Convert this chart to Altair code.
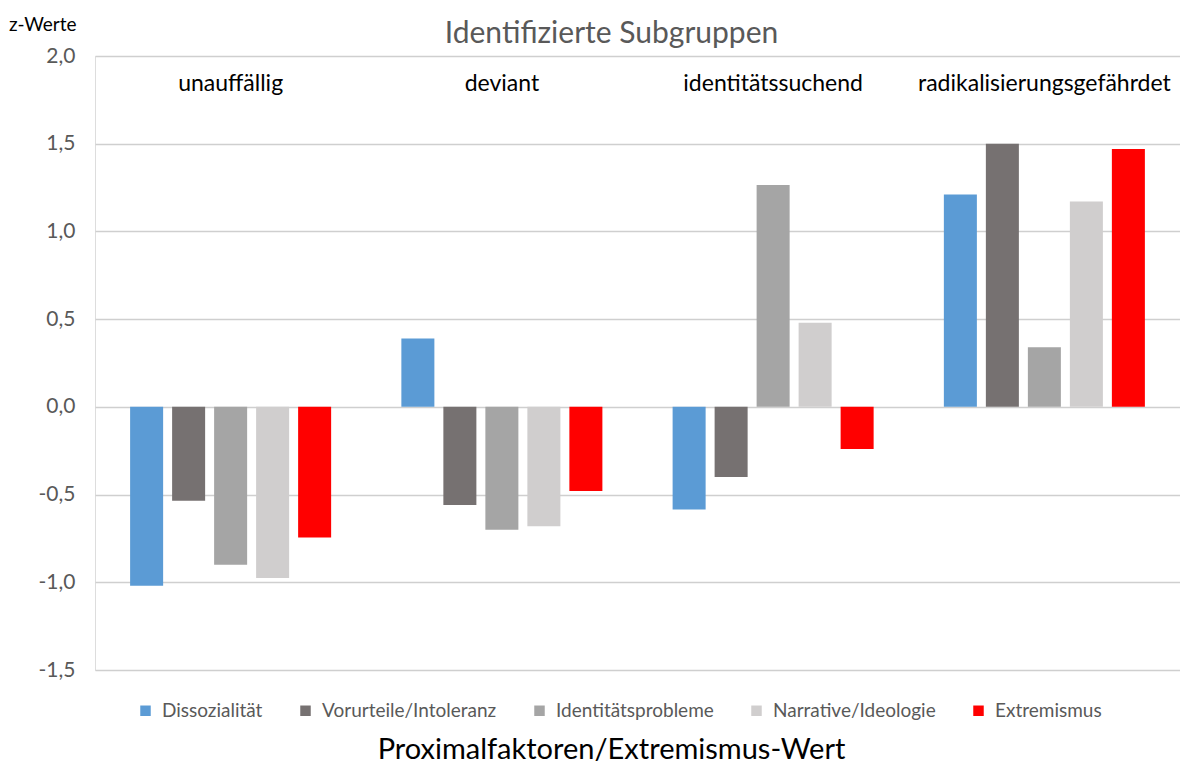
import altair as alt
import pandas as pd

FONT = "Lato"

groups = ["unauffällig", "deviant", "identitätssuchend", "radikalisierungsgefährdet"]
factors = ["Dissozialität", "Vorurteile/Intoleranz", "Identitätsprobleme",
           "Narrative/Ideologie", "Extremismus"]
colors = ["#5B9BD5", "#767171", "#A5A5A5", "#D0CECE", "#FF0000"]

dissozialitaet = [-1.02, 0.39, -0.585, 1.21]
vorurteile = [-0.535, -0.56, -0.40, 1.50]
identitaet = [-0.90, -0.70, 1.265, 0.34]
narrative = [-0.975, -0.68, 0.48, 1.17]
extremismus = [-0.745, -0.48, -0.24, 1.47]

y_ticks = [-1.5, -1.0, -0.5, 0.0, 0.5, 1.0, 1.5, 2.0]

series = [dissozialitaet, vorurteile, identitaet, narrative, extremismus]
rows = []
for f, vals in zip(factors, series):
    for g, v in zip(groups, vals):
        rows.append({"Gruppe": g, "Faktor": f, "Wert": v})
df = pd.DataFrame(rows)
labels_df = pd.DataFrame({"Gruppe": groups})
ylab_df = pd.DataFrame({"t": ["z-Werte"]})

W, H = 1085, 614

x_enc = alt.X(
    "Gruppe:N", sort=groups,
    scale=alt.Scale(paddingInner=0, paddingOuter=0),
    axis=alt.Axis(labels=False, ticks=False, domain=False, grid=False,
                  title="Proximalfaktoren/Extremismus-Wert",
                  titleFont=FONT, titleFontSize=29, titleFontWeight="normal",
                  titleColor="#000000", titleX=516, titleY=88,
                  titleAlign="center", titleBaseline="alphabetic"),
)

y_scale = alt.Scale(domain=[-1.5, 2.0], nice=False, zero=False)

bars = alt.Chart(df).mark_bar().encode(
    x=x_enc,
    xOffset=alt.XOffset("Faktor:N", sort=factors,
                        scale=alt.Scale(paddingInner=0.214, paddingOuter=0.836)),
    y=alt.Y("Wert:Q", scale=y_scale,
            axis=alt.Axis(values=y_ticks, title=None, domain=False, ticks=False,
                          labelExpr="(datum.value < 0 ? '-' : '') + replace(format(abs(datum.value), '.1f'), '.', ',')",
                          labelFont=FONT, labelFontSize=21, labelColor="#595959",
                          labelPadding=20, gridColor="#cfcfcf", gridWidth=1.3)),
    color=alt.Color("Faktor:N", sort=factors,
                    scale=alt.Scale(domain=factors, range=colors),
                    legend=alt.Legend(orient="none", direction="horizontal", columns=5,
                                      legendX=41, legendY=645, title=None,
                                      symbolType="square", symbolSize=110,
                                      symbolStrokeWidth=0, labelFont=FONT,
                                      labelFontSize=19, labelColor="#595959",
                                      labelLimit=400,
                                      labelOffset=7, columnPadding=33, padding=0)),
)

group_text = alt.Chart(labels_df).mark_text(
    font=FONT, fontSize=23, color="#000000", baseline="alphabetic"
).encode(
    x=alt.X("Gruppe:N", sort=groups),
    y=alt.datum(1.80),
    text="Gruppe:N",
)

ylab = alt.Chart(ylab_df).mark_text(
    font=FONT, fontSize=19, color="#000000", align="left", baseline="top"
).encode(
    x=alt.value(-86), y=alt.value(-40), text="t:N"
)

chart = alt.layer(bars, group_text, ylab).properties(
    width=W, height=H,
    title=alt.TitleParams("Identifizierte Subgruppen", font=FONT, fontSize=30,
                          fontWeight="normal", color="#595959", anchor="middle",
                          frame="group", dx=-26, offset=-33),
    autosize=alt.AutoSizeParams(type="none"),
    padding={"left": 87, "top": 48, "right": 0, "bottom": 96},
).configure_view(stroke=None).configure(background="white")

chart.save("out.html", embed_options={"renderer": "svg", "actions": False})
